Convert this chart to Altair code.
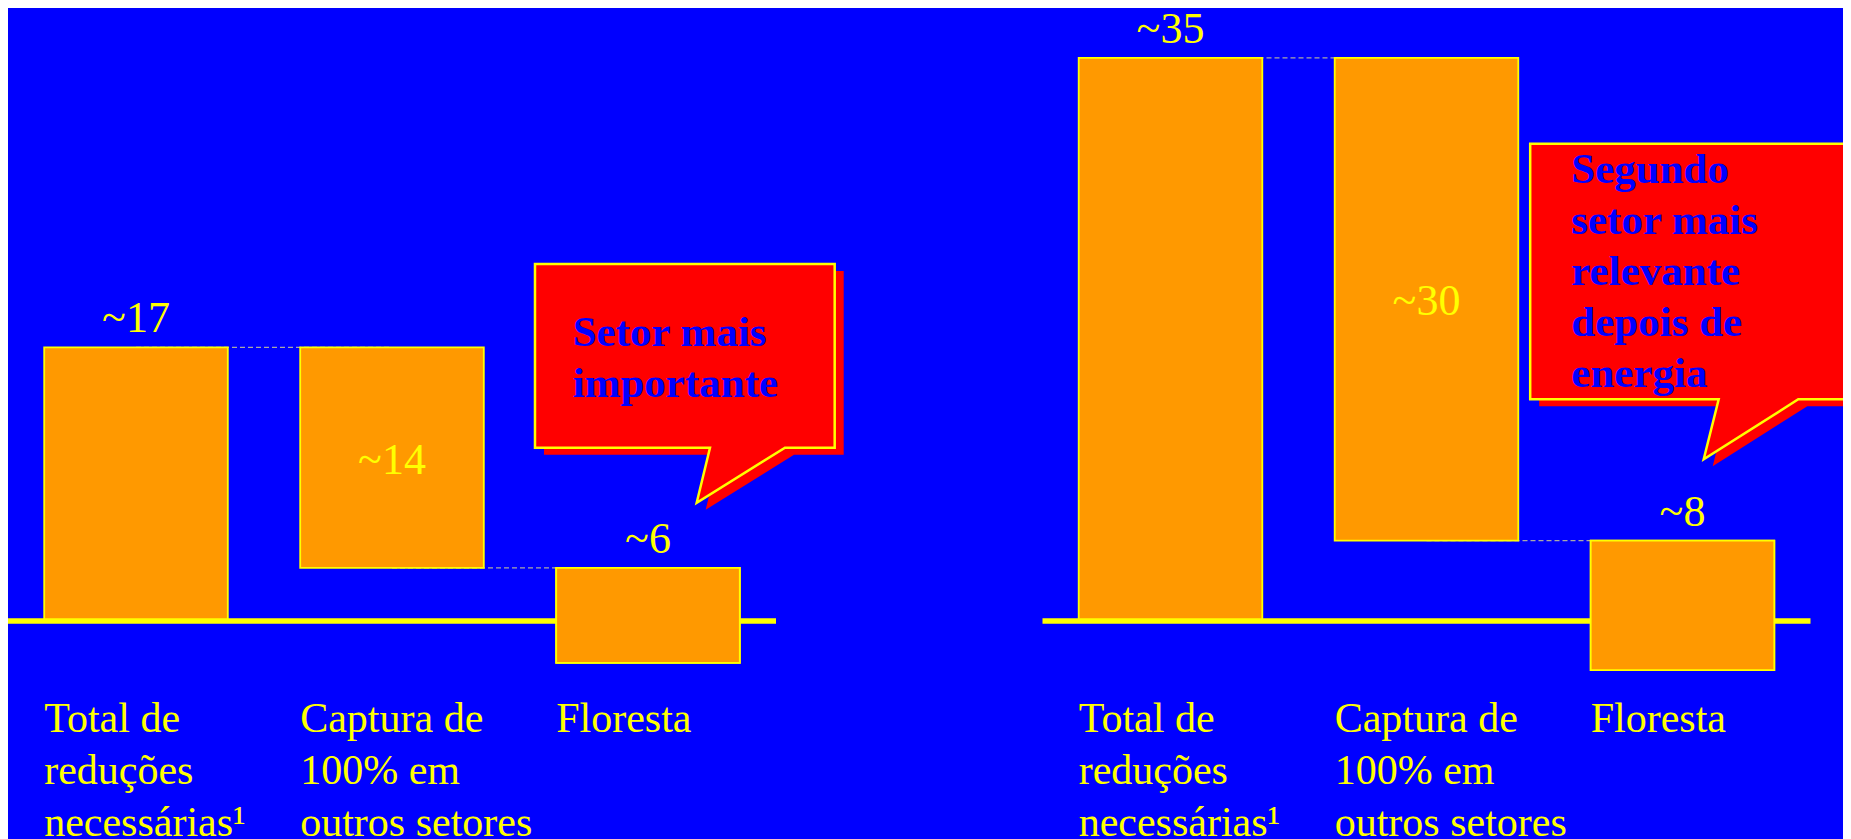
import altair as alt
import pandas as pd

# ------------------------------------------------------------------ data
categories = [
    "Total de\nreduções\nnecessárias¹",
    "Captura de\n100% em\noutros setores",
    "Floresta",
]
panels = ["painel_1", "painel_2"]
values_panel_1 = [17.0, 13.7, 5.9]
values_panel_2 = [35.0, 30.0, 8.05]
labels_panel_1 = ["~17", "~14", "~6"]
labels_panel_2 = ["~35", "~30", "~8"]
callout_texts = [
    "Setor mais\nimportante",
    "Segundo\nsetor mais\nrelevante\ndepois de\nenergia",
]

# ------------------------------------------------------------------ layout / style
BG = "#0000FF"
ORANGE = "#FF9900"
YELLOW = "#FFFF00"
RED = "#FF0000"
DASH = "#A8A8A8"
FONT = "Liberation Serif"

W, H = 1835, 831
X_DOMAIN = [-0.5, 6.66797]        # slot units
Y_DOMAIN = [-13.5488, 38.0982]    # value units
PANEL_SHIFT = 4.041               # slot distance between the two panels
HALF = 0.3586                     # half bar width in slot units

# callout tail tip anchored in data space (slot, value); shape in pixels around it
callout_anchor = [(2.1902, 7.35), (6.1238, 10.05)]
callout_path = [
    "M0,0L13.3,-55L-161.7,-55L-161.7,-238.7L138,-238.7L138,-55L88.3,-55Z",
    "M0,0L15,-60L-173.5,-60L-173.5,-315.6L230,-315.6L230,-60L94.6,-60Z",
]
callout_text_offset = [(-124, -156.7), (-132.4, -276.6)]

# ------------------------------------------------------------------ tables
bar_rows, link_rows, base_rows = [], [], []
for p, (name, vals, labs) in enumerate(
    zip(panels, [values_panel_1, values_panel_2], [labels_panel_1, labels_panel_2])
):
    off = p * PANEL_SHIFT
    level = 0.0
    for i, (cat, v, lab) in enumerate(zip(categories, vals, labs)):
        start = 0.0 if i == 0 else level
        end = v if i == 0 else level - v
        lo, hi = min(start, end), max(start, end)
        bar_rows.append(
            {
                "panel": name,
                "cat": cat,
                "slot": off + i,
                "x0": off + i - HALF,
                "x1": off + i + HALF,
                "lo": lo,
                "hi": hi,
                "mid": (lo + hi) / 2,
                "label": lab,
                "inside": i == 1,
                "crosses": lo < 0,
                "zero": 0.0,
            }
        )
        if i < len(vals) - 1:
            link_rows.append({"xa": off + i, "xb": off + i + 1, "y": end})
        level = end
    base_rows.append({"xa": off - 0.5, "xb": off + 2.5, "y": 0.0})

bars = pd.DataFrame(bar_rows)
links = pd.DataFrame(link_rows)
bases = pd.DataFrame(base_rows)

xs = alt.Scale(domain=X_DOMAIN, nice=False, zero=False)
ys = alt.Scale(domain=Y_DOMAIN, nice=False, zero=False)


def X(f):
    return alt.X(f"{f}:Q", scale=xs, axis=None)


def Y(f):
    return alt.Y(f"{f}:Q", scale=ys, axis=None)


connectors = alt.Chart(links).mark_rule(
    color=DASH, strokeWidth=1.3, strokeDash=[5, 3]
).encode(x=X("xa"), x2=alt.X2("xb"), y=Y("y"))

bar_layer = alt.Chart(bars).mark_rect(
    fill=ORANGE, stroke=YELLOW, strokeWidth=1.8
).encode(x=X("x0"), x2=alt.X2("x1"), y=Y("lo"), y2=alt.Y2("hi"))

baseline = alt.Chart(bases).mark_rule(color=YELLOW, strokeWidth=5.5).encode(
    x=X("xa"), x2=alt.X2("xb"), y=Y("y")
)

crossing = bar_layer.transform_filter("datum.crosses")

labels_above = alt.Chart(bars).mark_text(
    font=FONT, fontSize=44, color=YELLOW, align="center", baseline="alphabetic", dy=-15
).encode(x=X("slot"), y=Y("hi"), text="label:N").transform_filter("!datum.inside")

labels_inside = alt.Chart(bars).mark_text(
    font=FONT, fontSize=44, color=YELLOW, align="center", baseline="alphabetic", dy=16
).encode(x=X("slot"), y=Y("mid"), text="label:N").transform_filter("datum.inside")

cat_labels = alt.Chart(bars).mark_text(
    font=FONT,
    fontSize=42,
    color=YELLOW,
    align="left",
    baseline="alphabetic",
    dy=111.5,
    lineBreak="\n",
    lineHeight=52,
).encode(x=X("x0"), y=Y("zero"), text="cat:N")

callout_layers = []
for k, txt in enumerate(callout_texts):
    df = pd.DataFrame(
        [{"slot": callout_anchor[k][0], "value": callout_anchor[k][1], "text": txt}]
    )
    base = alt.Chart(df)
    shadow = base.mark_point(
        shape=callout_path[k],
        size=4,
        filled=True,
        fill=RED,
        strokeWidth=0,
        opacity=1,
        xOffset=9,
        yOffset=7,
    ).encode(x=X("slot"), y=Y("value"))
    box = base.mark_point(
        shape=callout_path[k],
        size=4,
        filled=True,
        fill=RED,
        stroke=YELLOW,
        strokeWidth=2.5,
        strokeJoin="miter",
        opacity=1,
    ).encode(x=X("slot"), y=Y("value"))
    words = base.mark_text(
        font=FONT,
        fontSize=43,
        fontWeight="bold",
        color=BG,
        align="left",
        baseline="alphabetic",
        dx=callout_text_offset[k][0],
        dy=callout_text_offset[k][1],
        lineBreak="\n",
        lineHeight=51,
    ).encode(x=X("slot"), y=Y("value"), text="text:N")
    callout_layers += [shadow, box, words]

chart = (
    alt.layer(
        connectors,
        bar_layer,
        baseline,
        crossing,
        labels_above,
        labels_inside,
        cat_labels,
        *callout_layers,
    )
    .properties(
        width=W,
        height=H,
        autosize=alt.AutoSizeParams(type="none"),
        padding=0,
        background=BG,
    )
    .configure_view(strokeWidth=0)
)

chart.save("out.html", embed_options={"renderer": "svg", "actions": False})
